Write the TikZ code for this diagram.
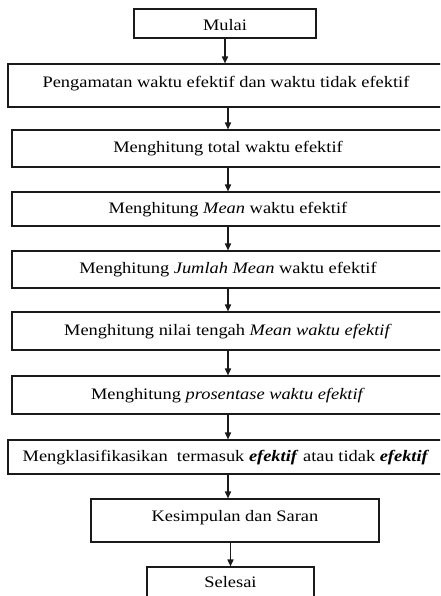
\documentclass[tikz,border=0pt]{standalone}
\usepackage{fontspec}
\setmainfont{Liberation Serif}[FakeStretch=1.15]
\usepackage{tikz}
\usetikzlibrary{arrows.meta}
\definecolor{fcink}{HTML}{1A1A1A}
\tikzset{
  fcbox/.style={draw=fcink, line width=0.9pt, fill=white, align=center,
    inner sep=0pt, text height=8.5pt, text depth=2.5pt},
  fcarrow/.style={-{Triangle[length=5.2pt,width=4.6pt]}, line width=0.9pt, draw=fcink}
}
\begin{document}
\begin{tikzpicture}[x=0.75pt, y=-0.75pt, font=\fontsize{12}{14}\selectfont]
\useasboundingbox (0,0) rectangle (440,596);
\clip (0,0) rectangle (440,596);
\coordinate (axis) at (228,0);
\node[fcbox, minimum width=136.5pt, minimum height=21.75pt, text height=11pt, text depth=0.5pt] (mulai) at (225,23.5) {Mulai};
\node[fcbox, minimum width=327pt, minimum height=32.25pt, text depth=5.5pt] (amat) at (226,85.5) {Pengamatan waktu efektif dan waktu tidak efektif};
\node[fcbox, minimum width=324pt, minimum height=27.75pt] (total) at (228,148.5) {Menghitung total waktu efektif};
\node[fcbox, minimum width=324pt, minimum height=25.5pt] (mean) at (228,209) {Menghitung \textit{Mean} waktu efektif};
\node[fcbox, minimum width=324pt, minimum height=27.75pt] (jumlah) at (228,269.5) {Menghitung \textit{Jumlah Mean} waktu efektif};
\node[fcbox, minimum width=324pt, minimum height=28.5pt] (tengah) at (228,331) {Menghitung nilai tengah \textit{Mean waktu efektif}};
\node[fcbox, minimum width=324pt, minimum height=28.5pt] (persen) at (228,395) {Menghitung \textit{prosentase waktu efektif}};
\node[fcbox, minimum width=327pt, minimum height=25.5pt] (klasifikasi) at (226,457) {Mengklasifikasikan\ \ termasuk \textbf{\textit{efektif}} atau tidak \textbf{\textit{efektif}}};
\node[fcbox, minimum width=216pt, minimum height=32.25pt, text depth=7pt] (simpulan) at (235,520.5) {Kesimpulan dan Saran};
\node[fcbox, minimum width=125.25pt, minimum height=28.5pt, text depth=6.5pt] (selesai) at (230.5,586) {Selesai};
% alur
\draw[fcarrow] (mulai.south) -- (mulai.south |- amat.north);
\draw[fcarrow] (amat.south -| axis) -- (total.north -| axis);
\draw[fcarrow] (total.south -| axis) -- (mean.north -| axis);
\draw[fcarrow] (mean.south -| axis) -- (jumlah.north -| axis);
\draw[fcarrow] (jumlah.south -| axis) -- (tengah.north -| axis);
\draw[fcarrow] (tengah.south -| axis) -- (persen.north -| axis);
\draw[fcarrow] (persen.south -| axis) -- (klasifikasi.north -| axis);
\draw[fcarrow] (klasifikasi.south -| axis) -- (simpulan.north -| axis);
\draw[fcarrow] (selesai.north |- simpulan.south) -- (selesai.north);
\end{tikzpicture}
\end{document}
